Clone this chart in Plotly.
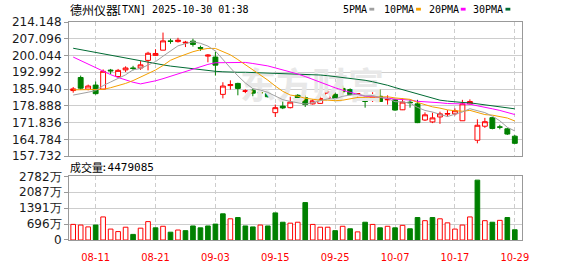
import pandas as pd
import plotly.graph_objects as go

# ---------------- data ----------------
dates = [d.strftime("%Y-%m-%d") for d in pd.bdate_range("2025-08-06", "2025-10-29")
         if d.strftime("%Y-%m-%d") != "2025-09-01"]

tick_labels = ["08-11", "08-21", "09-03", "09-15", "09-25", "10-07", "10-17", "10-29"]

open_ = [185.3, 190.8, 185.9, 187.6, 185.9, 193.9, 191.2, 194.0, 194.8, 194.8,
         198.0, 200.1, 202.3, 206.2, 205.9, 205.3, 206.1, 203.4, 199.8, 199.4,
         183.7, 187.4, 188.3, 184.9, 185.4, 184.45, 184.1, 176.0, 178.75, 178.1,
         183.3, 182.3, 179.7, 179.9, 182.0, 183.7, 186.2, 185.7, 183.7, 182.0,
         181.1, 182.9, 181.4, 181.4, 177.2, 180.4, 179.7, 172.9, 172.1, 174.2,
         175.4, 175.5, 172.6, 179.7, 164.4, 170.3, 173.9, 170.0, 169.2, 166.1]
high = [186.8, 191.6, 187.8, 189.1, 194.2, 194.4, 194.4, 195.5, 195.7, 197.7,
        201.6, 202.7, 209.7, 207.1, 207.5, 206.2, 207.1, 204.2, 200.6, 201.6,
        188.8, 189.6, 188.6, 185.8, 186.2, 185.2, 184.3, 179.4, 180.7, 182.7,
        183.8, 183.3, 181.6, 182.9, 185.3, 184.4, 187.4, 186.2, 184.2, 184.2,
        184.6, 185.7, 183.3, 181.8, 182.0, 181.4, 181.4, 176.1, 176.0, 176.4,
        177.1, 177.8, 181.4, 181.6, 173.2, 173.8, 174.2, 170.9, 169.6, 166.6]
low = [184.4, 185.7, 185.4, 183.6, 185.7, 192.2, 190.8, 193.1, 193.8, 194.0,
       193.8, 199.8, 202.3, 205.0, 205.5, 203.6, 203.8, 202.0, 197.2, 191.6,
       182.0, 185.7, 183.3, 184.2, 182.9, 182.5, 182.4, 174.2, 177.5, 177.8,
       181.0, 178.4, 179.4, 179.7, 181.8, 180.7, 183.5, 183.3, 181.8, 178.1,
       180.5, 180.5, 179.4, 176.8, 177.1, 178.1, 171.6, 172.5, 171.6, 171.3,
       174.4, 174.8, 172.6, 179.4, 163.1, 169.6, 169.0, 169.0, 166.6, 162.8]
close = [186.0, 186.3, 187.2, 184.0, 193.4, 193.6, 193.8, 194.8, 194.6, 196.1,
         201.0, 200.9, 206.2, 206.0, 206.5, 205.6, 204.7, 203.1, 200.2, 196.0,
         187.2, 187.8, 186.2, 185.2, 184.2, 184.35, 182.7, 178.1, 178.0, 180.45,
         182.1, 179.4, 181.0, 182.0, 184.6, 182.0, 184.8, 183.6, 184.0, 180.7,
         182.9, 180.7, 181.6, 177.1, 180.45, 180.2, 171.8, 175.1, 173.8, 175.5,
         175.6, 176.8, 179.7, 180.7, 170.7, 172.2, 169.35, 169.9, 167.0, 163.1]

# volume in 万 shares (last value exact: 4479085 shares)
volume_wan = [683, 654, 573, 654, 1009, 477, 368, 559, 245, 518,
              804, 532, 600, 341, 436, 409, 614, 532, 614, 695,
              1145, 927, 982, 614, 573, 654, 614, 1186, 777, 736,
              777, 1636, 682, 559, 559, 409, 600, 491, 355, 777,
              682, 532, 600, 532, 641, 491, 982, 845, 982, 927,
              750, 477, 654, 1009, 2618, 845, 777, 859, 982, 447.9085]
# volume colour: U = up (red, hollow), D = down (green, filled)
volume_dir = list("UUUDUUUUDUUDUDUDDDDDDUDDDUDDDUUDUUUDUDUDUDUDUDDUDUUUUUDUDUDD")

# moving-average values before enough bars exist
ma5_head = [183.4, 183.9, 184.6, 185.3]
ma10_head = [185.6, 185.6, 185.6, 185.6, 185.8, 186.5, 187.3, 188.3, 189.5]
ma20_head = [199.4, 197.9, 196.4, 194.9, 193.5, 192.0, 190.8, 189.7, 188.8, 188.1,
             188.6, 189.4, 190.3, 191.3, 192.3, 193.4, 194.5, 195.5, 196.3]
ma30_head = [203.1, 202.5, 201.9, 201.3, 200.7, 200.1, 199.4, 198.8, 198.2, 197.6,
             197.0, 196.6, 196.1, 195.6, 195.2, 194.8, 194.4, 194.0, 193.7, 193.4,
             193.2, 193.0, 193.0, 193.0, 192.9, 192.9, 192.8, 192.7, 192.6]

price_ticks = [157.732, 164.784, 171.836, 178.888, 185.940, 192.992, 200.044, 207.096, 214.148]
vol_tick_wan = [0, 695.5, 1391, 2086.5, 2782]
vol_tick_text = ["0", "696万", "1391万", "2087万", "2782万"]

# ---------------- derived ----------------
n = len(dates)
idx = list(range(n))
volume = [round(v * 10000) for v in volume_wan]


def moving_avg(head, period):
    out = []
    for i in range(n):
        if i < period - 1:
            out.append(head[i])
        else:
            out.append(sum(close[i - period + 1:i + 1]) / period)
    return out


ma5 = moving_avg(ma5_head, 5)
ma10 = moving_avg(ma10_head, 10)
ma20 = moving_avg(ma20_head, 20)
ma30 = moving_avg(ma30_head, 30)

mmdd = [d[5:] for d in dates]
tickvals = [mmdd.index(t) for t in tick_labels]

RED = "#FF0000"
GREEN = "#008000"
MA_COLORS = {"5PMA": "#A0A0A0", "10PMA": "#F5A000", "20PMA": "#FF00FF", "30PMA": "#006B33"}

# ---------------- figure ----------------
W, H = 578, 276
L, R, T, B = 56, 56, 22, 21
PW, PH = W - L - R, H - T - B


def px_x(px):
    return (px - L) / PW


def px_y(py):
    return (H - B - py) / PH


fig = go.Figure()

# faint watermark text behind everything
fig.add_trace(go.Scatter(x=[31.9], y=[185.4], mode="text", text=["东方财富"],
                         textfont=dict(size=36, color="#E8E8E8", family="Noto Sans CJK SC", weight="bold"),
                         hoverinfo="skip", showlegend=False, xaxis="x", yaxis="y"))

for name, vals in [("30PMA", ma30), ("20PMA", ma20), ("10PMA", ma10), ("5PMA", ma5)]:
    fig.add_trace(go.Scatter(x=idx, y=vals, mode="lines", name=name,
                             line=dict(color=MA_COLORS[name], width=1),
                             hoverinfo="skip", showlegend=False, xaxis="x", yaxis="y"))

fig.add_trace(go.Candlestick(
    x=idx, open=open_, high=high, low=low, close=close,
    increasing=dict(line=dict(color=RED, width=1), fillcolor="white"),
    decreasing=dict(line=dict(color=GREEN, width=1), fillcolor=GREEN),
    whiskerwidth=0, hoverinfo="skip", showlegend=False, xaxis="x", yaxis="y"))

fig.add_trace(go.Bar(
    x=idx, y=volume, width=0.62,
    marker=dict(color=["white" if d == "U" else GREEN for d in volume_dir],
                line=dict(color=[RED if d == "U" else GREEN for d in volume_dir], width=1)),
    hoverinfo="skip", showlegend=False, xaxis="x2", yaxis="y2"))

xr = [-0.56, 59.96]
grid = "#CDCDCD"
border = "#999999"
tickfont = dict(family="DejaVu Sans", size=12, color="#1A1A1A")

common_x = dict(range=xr, tickmode="array", tickvals=tickvals, showgrid=True, gridcolor=grid,
                griddash="4px,3px", gridwidth=1, showline=True, mirror=True, linecolor=border,
                linewidth=1, zeroline=False, ticks="", fixedrange=True)

fig.update_layout(
    width=W, height=H, margin=dict(l=L, r=R, t=T, b=B, pad=0),
    paper_bgcolor="white", plot_bgcolor="white", showlegend=False, hovermode=False,
    boxgap=0.35, boxgroupgap=0,
    xaxis=dict(domain=[0, 1], anchor="y", showticklabels=False,
               rangeslider=dict(visible=False), **common_x),
    xaxis2=dict(domain=[0, 1], anchor="y2", matches="x", showticklabels=True,
                ticktext=tick_labels, ticklabelstandoff=7,
                tickfont=dict(family="Liberation Sans Narrow, DejaVu Sans Condensed, Liberation Sans",
                              size=11, color=RED),
                **common_x),
    yaxis=dict(domain=[px_y(165.3), 1], anchor="x", range=[price_ticks[0], price_ticks[-1]],
               tickmode="array", tickvals=price_ticks, ticktext=[f"{v:.3f}" for v in price_ticks],
               ticks="outside", ticklen=4, tickcolor=border, tickfont=tickfont,
               showgrid=True, gridcolor=grid, showline=True, mirror=True, linecolor=border,
               linewidth=1, zeroline=False, fixedrange=True),
    yaxis2=dict(domain=[0, px_y(187)], anchor="x2", range=[0, vol_tick_wan[-1] * 10000],
                tickmode="array", tickvals=[v * 10000 for v in vol_tick_wan], ticktext=vol_tick_text,
                ticks="outside", ticklen=4, tickcolor=border, tickfont=tickfont,
                showgrid=True, gridcolor=grid, showline=True, mirror=True, linecolor=border,
                linewidth=1, zeroline=False, fixedrange=True),
)

ann = []
cjk = "Noto Sans CJK SC"
mono = "DejaVu Sans Mono"
# title
ann.append(dict(x=px_x(56), y=px_y(8.5), text="德州仪器", font=dict(family=cjk, size=12, color="#000")))
ann.append(dict(x=px_x(103), y=px_y(8.5), text="[TXN] 2025-10-30 01:38",
                font=dict(family=mono, size=10, color="#000")))
# volume label
ann.append(dict(x=px_x(56), y=px_y(177.5), text="成交量", font=dict(family=cjk, size=11, color="#000")))
ann.append(dict(x=px_x(88), y=px_y(177.5), text=f":{volume[-1]}",
                font=dict(family=mono, size=11, color="#000")))
# legend
legend_pos = [("5PMA", 337, 365), ("10PMA", 379, 413), ("20PMA", 425, 459), ("30PMA", 471, 505)]
shapes = []
for name, tx, mx in legend_pos:
    ann.append(dict(x=px_x(tx), y=px_y(8.5), text=name, font=dict(family=mono, size=10, color="#000")))
    shapes.append(dict(type="rect", xref="paper", yref="paper", x0=px_x(mx), x1=px_x(mx + 5),
                       y0=px_y(9.8), y1=px_y(6.8), fillcolor=MA_COLORS[name], line=dict(width=0)))

for a in ann:
    a.update(xref="paper", yref="paper", xanchor="left", yanchor="middle", showarrow=False,
             borderpad=0)
fig.update_layout(annotations=ann, shapes=shapes)

fig.write_html("out.html")
